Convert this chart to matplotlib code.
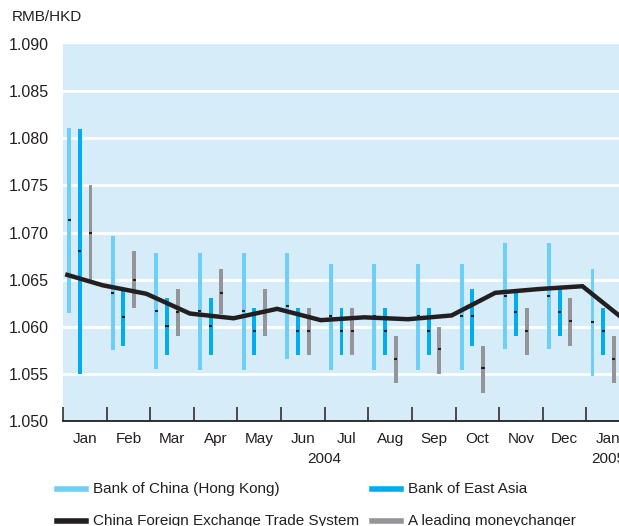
import matplotlib.pyplot as plt
import numpy as np
from matplotlib.lines import Line2D

plt.rcParams["font.family"] = ["Liberation Sans", "DejaVu Sans"]

# monthly ranges, Jan 2004 - Jan 2005
months = ["Jan", "Feb", "Mar", "Apr", "May", "Jun", "Jul",
          "Aug", "Sep", "Oct", "Nov", "Dec", "Jan"]

boc_high = [1.0811, 1.0696, 1.0678, 1.0678, 1.0678, 1.0678, 1.0667,
            1.0667, 1.0667, 1.0667, 1.0689, 1.0689, 1.0661]
boc_low = [1.0615, 1.0575, 1.0555, 1.0554, 1.0554, 1.0566, 1.0554,
           1.0554, 1.0554, 1.0554, 1.0576, 1.0576, 1.0548]
boc_avg = [1.0713, 1.0636, 1.0617, 1.0617, 1.0617, 1.0622, 1.0611,
           1.0611, 1.0611, 1.0611, 1.0633, 1.0633, 1.0605]

bea_high = [1.0810, 1.0638, 1.0630, 1.0630, 1.0620, 1.0620, 1.0620,
            1.0620, 1.0620, 1.0640, 1.0639, 1.0640, 1.0620]
bea_low = [1.0550, 1.0580, 1.0570, 1.0570, 1.0570, 1.0570, 1.0570,
           1.0570, 1.0570, 1.0580, 1.0590, 1.0590, 1.0570]
bea_avg = [1.0680, 1.0610, 1.0601, 1.0601, 1.0596, 1.0596, 1.0596,
           1.0596, 1.0596, 1.0611, 1.0616, 1.0616, 1.0596]

mc_high = [1.0750, 1.0680, 1.0640, 1.0661, 1.0640, 1.0620, 1.0620,
           1.0590, 1.0600, 1.0580, 1.0620, 1.0630, 1.0590]
mc_low = [1.0650, 1.0620, 1.0590, 1.0613, 1.0590, 1.0570, 1.0570,
          1.0540, 1.0550, 1.0530, 1.0570, 1.0580, 1.0540]
mc_avg = [1.0700, 1.0650, 1.0616, 1.0636, 1.0616, 1.0596, 1.0596,
          1.0566, 1.0576, 1.0556, 1.0596, 1.0606, 1.0566]

# CFETS rate, time in months from 1 Jan 2004
cfets_t = [0.1, 0.91, 1.91, 2.91, 3.91, 4.91, 5.91, 6.91, 7.91,
           8.91, 9.91, 10.91, 11.91, 12.91]
cfets = [1.0655, 1.0644, 1.0635, 1.0614, 1.0609, 1.0619, 1.0607,
         1.0610, 1.0608, 1.0612, 1.0636, 1.0640, 1.0643, 1.0606]

BG = "#d6ecf9"
INK = "#231f20"
C_BOC = "#6dcff6"
C_BEA = "#00aeef"
C_MC = "#939598"

fig = plt.figure(figsize=(6.19, 5.26), dpi=100)
ax = fig.add_axes([63 / 619, 105 / 526, 567 / 619, 377 / 526])
ax.set_facecolor(BG)

ax.set_xlim(0, 13)
ax.set_ylim(1.050, 1.090)
yt = np.arange(1.050, 1.0901, 0.005)
ax.set_yticks(yt)
ax.set_yticklabels([f"{v:.3f}" for v in yt])
for v in yt[1:-1]:
    ax.axhline(v, color="white", lw=2, zorder=1)

m = np.arange(len(months))
w = 0.09
series = [
    (0.14, boc_high, boc_low, boc_avg, C_BOC),
    (0.385, bea_high, bea_low, bea_avg, C_BEA),
    (0.63, mc_high, mc_low, mc_avg, C_MC),
]
for off, hi, lo, avg, col in series:
    hi = np.array(hi)
    lo = np.array(lo)
    ax.bar(m + off, hi - lo, bottom=lo, width=w, color=col, zorder=2)
    ax.hlines(avg, m + off - 0.035, m + off + 0.035, color=INK, lw=1.5, zorder=3)

ax.plot(cfets_t, cfets, color=INK, lw=3.2, solid_joinstyle="miter", zorder=4)

# axes styling
for s in ["left", "right", "top"]:
    ax.spines[s].set_visible(False)
ax.spines["bottom"].set_color(INK)
ax.spines["bottom"].set_linewidth(1.3)
ax.set_xticks(np.arange(0, 14))
ax.set_xticklabels([])
ax.set_xticks(m + 0.5, minor=True)
ax.set_xticklabels(months, minor=True)
ax.tick_params(axis="x", which="major", direction="in", length=10, width=1.1, color=INK)
ax.tick_params(axis="x", which="minor", length=0, pad=8, labelsize=11, labelcolor=INK)
ax.tick_params(axis="y", length=0, pad=10, labelsize=11.5, labelcolor=INK)

# year labels
ax.text(6.0, -0.1, "2004", transform=ax.get_xaxis_transform(),
        ha="center", va="center", fontsize=11, color=INK, clip_on=False)
ax.text(12.5, -0.1, "2005", transform=ax.get_xaxis_transform(),
        ha="center", va="center", fontsize=11, color=INK, clip_on=False)

fig.text(12 / 619, 1 - 17 / 526, "RMB/HKD", ha="left", va="center",
         fontsize=11, color=INK)

# legend drawn by hand, two columns
legend_items = [
    (57, 489, C_BOC, "Bank of China (Hong Kong)"),
    (372, 489, C_BEA, "Bank of East Asia"),
    (57, 521, INK, "China Foreign Exchange Trade System"),
    (372, 521, C_MC, "A leading moneychanger"),
]
for x, y, col, label in legend_items:
    yy = 1 - y / 526
    fig.add_artist(Line2D([x / 619, (x + 29) / 619], [yy, yy], color=col, lw=4,
                          transform=fig.transFigure))
    fig.text((x + 36) / 619, yy, label, ha="left", va="center",
             fontsize=11, color=INK)

fig.savefig("out.png", dpi=100)
